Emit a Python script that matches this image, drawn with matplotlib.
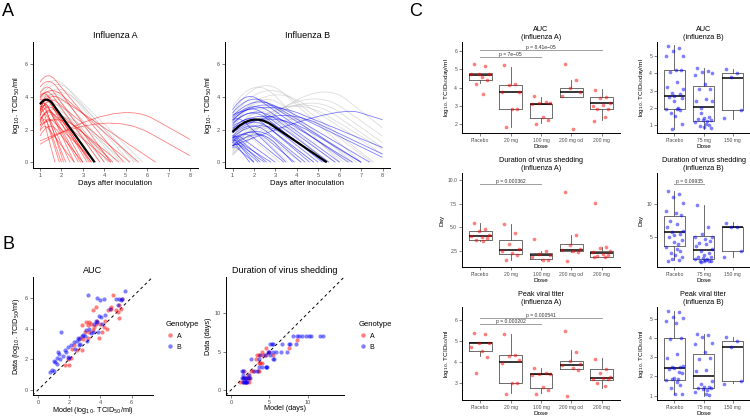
import matplotlib
matplotlib.use("Agg")
import matplotlib.pyplot as plt
from matplotlib.path import Path
from matplotlib.patches import PathPatch
from matplotlib.lines import Line2D

plt.rcParams['font.family'] = ['Liberation Sans', 'DejaVu Sans']

# ---- panel A: model curves, (titer at day 1, peak day, peak titer, end day, titer at end)
flu_a_black = (3.55, 1.3, 4.1, 3.55, 0)
flu_a_red = [
    (4.9, 1.35, 5.6, 4.9, 0), (4.6, 1.4, 5.3, 4.3, 0), (4.2, 1.3, 4.9, 4.0, 0),
    (3.9, 1.3, 4.6, 3.8, 0), (3.6, 1.2, 4.1, 3.4, 0), (3.0, 1.2, 4.4, 3.2, 0),
    (3.2, 1.25, 4.2, 3.0, 0), (2.8, 1.2, 3.9, 2.6, 0), (3.3, 1.2, 3.7, 2.8, 0),
    (3.4, 1.15, 3.5, 2.4, 0), (2.5, 1.2, 3.3, 2.2, 0), (2.2, 1.2, 3.0, 2.0, 0),
    (4.0, 1.5, 4.7, 5.6, 0), (3.5, 1.5, 4.3, 6.4, 0), (2.6, 1.3, 3.3, 4.3, 0),
    (2.0, 1.3, 2.9, 3.6, 0), (1.6, 1.4, 2.6, 3.0, 0), (2.7, 1.1, 2.9, 1.7, 0),
    (3.2, 1.1, 3.4, 1.9, 0), (3.8, 1.1, 4.0, 2.1, 0), (2.9, 1.3, 3.6, 4.7, 0),
    (3.1, 1.4, 4.1, 5.2, 0), (2.3, 2.0, 3.1, 4.4, 0), (1.9, 1.2, 2.4, 2.6, 0),
    (3.5, 1.2, 3.8, 2.9, 0), (4.1, 1.25, 4.4, 3.3, 0), (2.4, 1.3, 3.5, 3.4, 0),
    (1.1, 4.6, 3.9, 8.0, 1.4), (1.3, 4.2, 3.2, 8.0, 0.4),
]
flu_a_grey = [
    (4.3, 1.6, 5.5, 5.4, 0), (4.0, 1.7, 5.3, 5.8, 0), (3.8, 1.8, 5.1, 5.2, 0),
    (3.5, 1.6, 4.7, 4.6, 0), (3.2, 1.7, 4.4, 4.8, 0), (3.0, 1.6, 4.0, 4.4, 0),
    (2.8, 1.7, 3.7, 4.2, 0), (3.4, 1.5, 4.1, 3.8, 0), (2.5, 1.8, 3.5, 4.0, 0),
    (3.9, 1.5, 4.5, 4.2, 0), (2.2, 2.0, 3.3, 5.0, 0), (3.6, 1.9, 4.9, 5.5, 0),
]
flu_b_black = (1.85, 1.9, 3.1, 5.4, 0)
flu_b_grey = [
    (0.5, 4.6, 5.6, 8.0, 2.1), (1.0, 4.2, 5.1, 8.0, 1.6), (1.5, 3.8, 4.7, 8.0, 0.9),
    (3.0, 2.2, 5.6, 7.0, 0), (2.8, 2.4, 5.3, 7.6, 0), (2.5, 2.6, 5.0, 8.0, 0.5),
    (2.2, 2.2, 4.7, 6.6, 0), (2.0, 2.0, 4.4, 6.2, 0), (1.8, 2.3, 4.1, 6.8, 0),
    (1.5, 2.0, 3.8, 5.8, 0), (1.2, 2.2, 3.5, 5.4, 0), (1.0, 2.5, 3.1, 5.5, 0),
    (0.8, 2.0, 2.8, 4.8, 0), (0.6, 1.8, 2.3, 4.2, 0), (1.4, 1.6, 2.5, 3.6, 0),
    (0.9, 1.5, 1.9, 3.2, 0), (0.5, 3.0, 3.1, 6.5, 0), (0.4, 3.5, 3.9, 7.5, 0),
    (1.0, 3.2, 4.6, 8.0, 0.8), (3.4, 2.0, 5.4, 6.0, 0), (0.7, 4.0, 4.9, 8.0, 1.2),
]
flu_b_blue = [
    (3.2, 1.6, 4.4, 6.4, 0), (3.0, 1.8, 4.3, 7.0, 0), (2.8, 2.0, 4.2, 7.4, 0),
    (2.7, 1.9, 3.9, 6.0, 0), (2.6, 2.2, 4.0, 8.0, 0.3), (2.5, 1.7, 3.7, 5.5, 0),
    (2.4, 2.0, 3.6, 5.8, 0), (2.3, 1.8, 3.5, 5.2, 0), (2.2, 2.4, 3.4, 6.6, 0),
    (2.0, 1.7, 3.1, 4.8, 0), (1.9, 2.0, 3.2, 5.3, 0), (1.8, 1.9, 3.0, 4.6, 0),
    (1.6, 1.8, 2.7, 4.4, 0), (1.5, 2.2, 2.9, 5.0, 0), (1.3, 1.8, 2.3, 3.9, 0),
    (1.2, 2.0, 2.5, 4.2, 0), (1.0, 2.2, 2.3, 3.8, 0), (1.0, 5.8, 3.5, 8.0, 2.6),
    (1.8, 3.0, 3.6, 8.0, 0.5), (1.6, 1.1, 1.65, 2.6, 0), (1.5, 1.1, 1.55, 2.3, 0),
    (1.4, 1.05, 1.45, 2.0, 0), (1.3, 1.1, 1.4, 2.8, 0), (1.2, 1.1, 1.3, 2.2, 0),
    (1.1, 1.1, 1.2, 1.8, 0), (1.5, 1.2, 1.7, 3.0, 0), (1.0, 1.2, 1.2, 2.5, 0),
    (0.9, 1.1, 1.0, 2.0, 0), (2.6, 1.3, 2.8, 3.5, 0), (2.9, 2.6, 3.8, 8.0, 0.9),
    (1.4, 1.5, 2.0, 3.4, 0), (2.1, 2.8, 3.3, 7.0, 0),
]

# ---- panel B: model vs data
auc_a_model = [1.7, 1.9, 2.0, 2.1, 2.2, 2.3, 2.5, 2.7, 2.8, 2.8, 2.9, 3.0, 3.1, 3.2, 3.2, 3.3,
               3.4, 3.5, 3.5, 3.6, 3.7, 3.7, 3.8, 3.9, 4.0, 4.1, 4.2, 4.3, 4.5, 4.7, 4.8, 4.7,
               5.0, 5.1, 5.2, 5.3, 5.4, 5.2, 4.4, 3.3]
auc_a_data = [1.65, 2.0, 1.65, 2.1, 2.7, 2.95, 2.6, 3.4, 2.6, 4.2, 3.3, 3.8, 4.4, 4.2, 3.4, 4.4,
              4.3, 3.9, 5.2, 4.1, 5.4, 4.3, 4.5, 3.4, 4.3, 3.8, 4.1, 4.5, 5.2, 5.3, 6.2, 5.4,
              5.2, 5.1, 4.7, 5.3, 5.9, 5.5, 4.0, 3.8]
auc_b_model = [0.8, 0.9, 1.0, 1.05, 1.1, 1.2, 1.25, 1.3, 1.35, 1.4, 1.5, 1.6, 1.7, 1.8, 1.9,
               1.95, 2.0, 2.1, 2.3, 2.4, 2.5, 2.55, 2.6, 2.65, 2.7, 2.8, 3.0, 3.1, 3.15, 3.2,
               3.3, 3.4, 3.5, 3.6, 3.7, 3.75, 3.8, 3.9, 4.0, 4.05, 4.1, 4.2, 4.3, 4.6, 5.0,
               5.1, 5.3, 5.4, 5.55, 5.2, 3.85, 2.9]
auc_b_data = [1.15, 1.3, 1.25, 1.9, 1.85, 2.1, 1.7, 2.5, 2.35, 2.0, 3.8, 2.2, 2.6, 2.5, 2.8,
              2.15, 2.1, 2.9, 3.1, 2.7, 3.2, 3.4, 2.9, 3.3, 3.0, 3.5, 3.5, 3.9, 3.2, 6.2,
              4.0, 3.7, 3.75, 4.3, 4.5, 6.0, 4.4, 4.8, 5.85, 4.75, 4.3, 5.9, 4.9, 5.3, 5.9,
              5.5, 5.85, 5.9, 6.45, 5.9, 3.8, 3.6]
dur_a_model = [1.2, 1.6, 2.0, 2.3, 1.7, 2.0, 2.3, 2.4, 1.7, 2.6, 2.8, 3.5, 3.6, 3.7, 3.8, 4.0,
               3.4, 3.7, 4.2, 4.6, 5.4, 4.0, 5.0, 4.5, 7.5, 8.6, 3.2, 2.2]
dur_a_data = [1.0, 1.0, 1.0, 1.0, 1.5, 1.5, 1.5, 1.5, 2.5, 2.5, 2.5, 2.5, 2.5, 3.5, 3.5, 3.5,
              4.5, 4.5, 4.5, 4.5, 4.5, 5.0, 5.0, 5.5, 5.5, 6.5, 4.0, 2.0]
dur_b_model = [1.5, 1.7, 1.8, 1.9, 2.0, 2.1, 1.4, 1.6, 1.8, 2.0, 2.2, 2.5, 1.6, 2.3, 1.4, 1.6,
               3.0, 3.4, 3.6, 4.0, 4.5, 4.6, 4.7, 2.6, 3.6, 5.4, 5.6, 3.8, 4.4, 5.1, 4.8, 5.0,
               5.5, 5.8, 6.5, 7.3, 5.1, 5.3, 5.5, 6.6, 7.5, 7.7, 8.4, 8.1, 8.6, 8.8, 9.2, 9.8,
               10.1, 10.4, 11.6, 11.9]
dur_b_data = [1.0, 1.0, 1.0, 1.0, 1.0, 1.0, 1.5, 1.5, 1.5, 1.5, 1.5, 1.5, 2.0, 2.0, 2.5, 2.5,
              2.5, 2.5, 3.0, 3.0, 3.0, 3.0, 3.0, 4.0, 4.0, 4.0, 4.0, 4.5, 4.5, 4.5, 5.0, 5.0,
              5.0, 5.0, 5.0, 5.0, 6.0, 6.0, 6.0, 6.0, 6.0, 6.0, 6.0, 7.0, 7.0, 7.0, 7.0, 7.0,
              7.0, 7.0, 7.0, 7.0]

# ---- panel C: boxes (whisker low, q1, median, q3, whisker high) and points
doses_a = ["Placebo", "20 mg", "100 mg", "200 mg od", "200 mg"]
doses_b = ["Placebo", "75 mg", "150 mg"]

auc_a_box = [(4.23, 4.41, 4.70, 4.77, 4.8), (1.84, 2.81, 3.75, 4.14, 5.13),
             (2.05, 2.34, 3.12, 3.12, 3.5), (3.5, 3.5, 3.75, 3.96, 4.41),
             (2.23, 2.82, 3.17, 3.47, 3.9)]
auc_a_pts = [[5.28, 5.2, 4.75, 4.73, 4.72, 4.6, 4.42, 4.2, 3.65],
             [5.22, 4.2, 4.15, 3.75, 3.75, 2.85, 2.85, 1.82],
             [3.55, 3.2, 3.15, 3.15, 3.1, 2.4, 2.2, 2.0],
             [5.3, 4.4, 3.98, 3.75, 3.55, 1.75],
             [3.85, 3.5, 3.45, 3.15, 3.0, 3.05, 2.85, 2.85, 2.4, 2.15]]
auc_b_box = [(0.81, 1.95, 2.71, 4.18, 5.67), (0.81, 1.23, 2.09, 3.29, 4.33),
             (1.38, 1.9, 3.72, 4.01, 4.24)]
auc_b_pts = [[5.6, 5.5, 5.3, 5.0, 5.0, 4.2, 4.2, 4.1, 3.5, 3.2, 3.1, 2.9, 2.8, 2.7, 2.65,
              2.6, 2.4, 2.0, 1.95, 1.95, 1.9, 1.7, 1.55, 1.1, 0.8],
             [4.3, 4.15, 4.1, 4.0, 3.9, 3.4, 3.1, 3.1, 2.5, 2.4, 2.4, 2.0, 1.5, 1.4, 1.35,
              1.3, 1.3, 1.25, 1.2, 1.1, 1.0, 0.95, 0.9, 0.85, 1.7],
             [4.25, 4.0, 3.8, 1.9, 1.4]]
dur_a_box = [(3.6, 3.65, 4.07, 4.63, 5.47), (1.63, 2.22, 2.6, 3.72, 5.4),
             (1.63, 1.7, 2.15, 2.33, 2.5), (2.45, 2.57, 2.68, 3.27, 4.24),
             (1.9, 1.91, 2.33, 2.54, 2.95)]
dur_a_pts = [[5.45, 4.8, 4.6, 4.2, 4.1, 4.05, 3.9, 3.65, 3.55],
             [5.4, 4.45, 3.3, 2.7, 2.55, 2.3, 2.15, 1.6],
             [3.75, 2.5, 2.2, 2.1, 1.95, 1.6, 1.55],
             [8.75, 4.2, 3.2, 2.7, 2.6, 2.5, 2.45, 1.45],
             [7.55, 3.0, 2.8, 2.55, 2.4, 2.2, 2.1, 2.0, 1.95, 1.95]]
dur_b_box = [(1.65, 3.65, 5.75, 8.25, 11.9), (1.4, 1.75, 3.15, 5.15, 9.9),
             (2.05, 2.9, 6.5, 6.55, 7.25)]
dur_b_pts = [[11.9, 11.5, 11.0, 10.2, 8.9, 8.7, 8.3, 7.4, 7.0, 6.6, 6.0, 5.8, 5.5, 5.3,
              5.0, 4.6, 4.3, 4.0, 3.6, 3.2, 2.9, 2.6, 2.3, 2.0, 1.7, 1.6, 1.4],
             [9.8, 6.6, 5.5, 5.1, 5.0, 4.8, 4.5, 4.2, 4.0, 3.7, 3.2, 3.0, 2.6, 2.4, 2.1,
              2.0, 1.9, 1.8, 1.7, 1.6, 1.5, 1.5, 1.4, 1.4, 1.3],
             [7.2, 6.6, 6.5, 3.0, 2.0]]
peak_a_box = [(4.28, 4.56, 4.91, 4.95, 4.95), (2.52, 3.0, 4.0, 4.36, 5.35),
              (2.55, 2.79, 3.42, 3.43, 3.75), (3.67, 3.67, 3.88, 4.07, 4.6),
              (2.76, 3.14, 3.24, 3.67, 4.2)]
peak_a_pts = [[5.41, 5.35, 4.9, 4.9, 4.75, 4.55, 4.25, 3.51],
              [5.33, 4.35, 4.3, 4.1, 3.95, 3.02, 3.0, 2.5],
              [3.75, 3.5, 3.45, 3.45, 3.4, 2.8, 2.7, 2.5],
              [5.5, 4.5, 4.05, 3.9, 3.85, 3.75, 3.65, 2.39],
              [4.15, 3.7, 3.5, 3.3, 3.2, 3.25, 3.2, 3.0, 2.85]]
peak_b_box = [(1.09, 1.84, 2.46, 4.0, 5.41), (1.0, 1.41, 2.01, 3.18, 4.21),
              (1.64, 1.77, 3.54, 3.83, 4.07)]
peak_b_pts = [[5.4, 5.35, 5.1, 5.05, 4.85, 4.75, 4.0, 3.95, 3.15, 2.95, 2.55, 2.5, 2.5,
               2.45, 2.4, 2.2, 1.9, 1.85, 1.8, 1.7, 1.55, 1.4, 1.1, 1.1, 1.85, 2.25],
              [4.2, 4.15, 4.05, 3.75, 3.7, 3.25, 2.95, 2.9, 2.35, 2.3, 1.75, 1.6, 1.45,
               1.45, 1.4, 1.4, 1.35, 1.3, 1.2, 1.1, 1.05],
              [4.05, 3.85, 3.55, 1.78, 1.6]]

RED = "#ff0000"
BLUE = "#0000ff"
TICK = "#4d4d4d"
JIT = [-0.22, 0.15, -0.05, 0.28, -0.3, 0.05, 0.22, -0.15, 0.1, -0.26, 0.3, -0.1,
       0.18, 0.0, -0.18, 0.26, -0.02, 0.12, -0.28, 0.08, 0.2, -0.12, 0.03, 0.25, -0.08, 0.14]

W, H = 750, 417
fig = plt.figure(figsize=(7.5, 4.17), dpi=100)


def add_ax(l, t, r, b):
    return fig.add_axes([l / W, 1 - b / H, (r - l) / W, (b - t) / H])


def style(ax, fs=4):
    for s in ["top", "right"]:
        ax.spines[s].set_visible(False)
    for s in ["left", "bottom"]:
        ax.spines[s].set_linewidth(0.7)
    ax.tick_params(labelsize=fs, colors=TICK, length=2, width=0.5, pad=1.5)
    ax.set_facecolor("white")


def curve(ax, c, color, lw, alpha, z=2):
    # rise to the peak corner, round it off, then straight decline to the end
    y0, tp, yp, te, ye = c
    f = min(0.5, (tp - 1) / (te - tp))
    mid = (tp + f * (te - tp), yp + f * (ye - yp))
    path = Path([(1, y0), (tp, yp), mid, (te, ye)],
                [Path.MOVETO, Path.CURVE3, Path.CURVE3, Path.LINETO])
    ax.add_patch(PathPatch(path, fill=False, ec=color, lw=lw, alpha=alpha, zorder=z))


# ---- A
for (l, r), title, grey, col, black, ccol in [((32.5, 197.5), "Influenza A", flu_a_grey, flu_a_red, flu_a_black, RED),
                                               ((225, 390), "Influenza B", flu_b_grey, flu_b_blue, flu_b_black, BLUE)]:
    ax = add_ax(l, 42, r, 168)
    style(ax)
    for c in grey:
        curve(ax, c, "#bbbbbb", 0.6, 0.5)
    for c in col:
        curve(ax, c, ccol, 0.6, 0.5)
    curve(ax, black, "black", 1.6, 1, z=3)
    ax.set_xlim(0.65, 8.35)
    ax.set_ylim(-0.35, 7.35)
    ax.set_xticks(range(1, 9))
    ax.set_yticks([0, 2, 4, 6])
    ax.set_title(title, fontsize=6.5, pad=3)
    ax.set_xlabel("Days after inoculation", fontsize=5.5, labelpad=1.5)
    ax.set_ylabel("log$_{10}$. TCID$_{50}$/ml", fontsize=5.5, labelpad=2)

# ---- B
for (l, r), title, ma, da, mb, db, lim, ticks, xl, yl, legx in [
        ((32.5, 152.7), "AUC", auc_a_model, auc_a_data, auc_b_model, auc_b_data, (-0.35, 7.35), [0, 2, 4, 6],
         "Model (log$_{10}$. TCID$_{50}$/ml)", "Data (log$_{10}$. TCID$_{50}$/ml)", 162),
        ((225.6, 344.2), "Duration of virus shedding", dur_a_model, dur_a_data, dur_b_model, dur_b_data, (-0.7, 14.7),
         [0, 5, 10], "Model (days)", "Data (days)", 355)]:
    ax = add_ax(l, 277, r, 395.4)
    style(ax)
    ax.axline((0, 0), slope=1, color="black", ls=(0, (3, 3)), lw=0.7, zorder=1)
    ax.scatter(ma, da, s=9, color=RED, alpha=0.5, lw=0, zorder=2)
    ax.scatter(mb, db, s=9, color=BLUE, alpha=0.5, lw=0, zorder=2)
    ax.set_xlim(*lim)
    ax.set_ylim(*lim)
    ax.set_xticks(ticks)
    ax.set_yticks(ticks)
    ax.tick_params(axis="x", pad=1)
    ax.set_title(title, fontsize=6.5, pad=3)
    ax.set_xlabel(xl, fontsize=5.2, labelpad=0.5)
    ax.set_ylabel(yl, fontsize=5.2, labelpad=2)
    hs = [Line2D([], [], ls="", marker="o", ms=3.2, mew=0, color=RED, alpha=0.5),
          Line2D([], [], ls="", marker="o", ms=3.2, mew=0, color=BLUE, alpha=0.5)]
    leg = ax.legend(hs, ["A", "B"], title="Genotype", loc="upper left",
                    bbox_to_anchor=(legx / W, 1 - 318 / H), bbox_transform=fig.transFigure,
                    frameon=False, fontsize=5, title_fontsize=5.5, handletextpad=0.4,
                    handlelength=1.2, labelspacing=0.6, borderpad=0)
    leg._legend_box.align = "left"


# ---- C
def boxpanel(ax, boxes, pts, color, cats, ylim, yticks, title, ylabel, brackets):
    style(ax, fs=3.6)
    stats = [dict(whislo=b[0], q1=b[1], med=b[2], q3=b[3], whishi=b[4]) for b in boxes]
    ax.bxp(stats, positions=list(range(1, len(stats) + 1)), widths=0.75, showfliers=False,
           showcaps=False, boxprops=dict(color="#555555", lw=0.6),
           whiskerprops=dict(color="#555555", lw=0.6),
           medianprops=dict(color="black", lw=1.1))
    for i, vals in enumerate(pts):
        xs = [i + 1 + JIT[k % len(JIT)] for k in range(len(vals))]
        ax.scatter(xs, vals, s=7, color=color, alpha=0.5, lw=0, zorder=3)
    for x1, x2, y, lab in brackets:
        ax.plot([x1, x2], [y, y], color="#9e9e9e", lw=0.7)
        ax.text((x1 + x2) / 2, y, lab, ha="center", va="bottom", fontsize=3.6, color="#333333")
    ax.set_xlim(0.4, len(cats) + 0.6)
    ax.set_xticks(range(1, len(cats) + 1))
    ax.set_xticklabels(cats)
    ax.set_ylim(*ylim)
    ax.set_yticks(yticks)
    ax.set_title(title, fontsize=5.2, pad=2.5, linespacing=1.1)
    ax.set_xlabel("Dose", fontsize=4.6, labelpad=1)
    ax.set_ylabel(ylabel, fontsize=4.6, labelpad=2)


u1 = "log$_{10}$. TCID$_{50}$day/ml"
u3 = "log$_{10}$. TCID$_{50}$/ml"
boxpanel(add_ax(462, 42, 620, 133), auc_a_box, auc_a_pts, RED, doses_a, (1.51, 6.49), [2, 3, 4, 5, 6],
         "AUC\n(influenza A)", u1, [(1, 3, 5.67, "p = 7e\u221205"), (1, 5, 6.04, "p = 8.41e\u221205")])
boxpanel(add_ax(657, 42, 750, 133), auc_b_box, auc_b_pts, BLUE, doses_b, (0.56, 5.82), [1, 2, 3, 4, 5],
         "AUC\n(influenza B)", u1, [])
boxpanel(add_ax(462, 173, 620, 267), dur_a_box, dur_a_pts, RED, doses_a, (0.86, 10.7), [2.5, 5.0, 7.5, 10.0],
         "Duration of virus shedding\n(influenza A)", "Day", [(1, 3, 9.55, "p = 0.000362")])
boxpanel(add_ax(657, 173, 750, 267), dur_b_box, dur_b_pts, BLUE, doses_b, (0.55, 14.65), [5, 10],
         "Duration of virus shedding\n(influenza B)", "Day", [(1, 2, 13.05, "p = 0.09935")])
boxpanel(add_ax(462, 307, 620, 400), peak_a_box, peak_a_pts, RED, doses_a, (2.2, 6.64), [3, 4, 5, 6],
         "Peak viral titer\n(influenza A)", u3, [(1, 3, 5.84, "p = 0.000202"), (1, 5, 6.13, "p = 0.000541")])
boxpanel(add_ax(657, 307, 750, 400), peak_b_box, peak_b_pts, BLUE, doses_b, (0.78, 5.6), [1, 2, 3, 4, 5],
         "Peak viral titer\n(influenza B)", u3, [])

for lab, x, y in [("A", 2, 3), ("B", 2, 236), ("C", 409, 3)]:
    fig.text(x / W, 1 - y / H, lab, fontsize=13, va="top", ha="left")

fig.savefig("out.png", dpi=100, facecolor="white")
